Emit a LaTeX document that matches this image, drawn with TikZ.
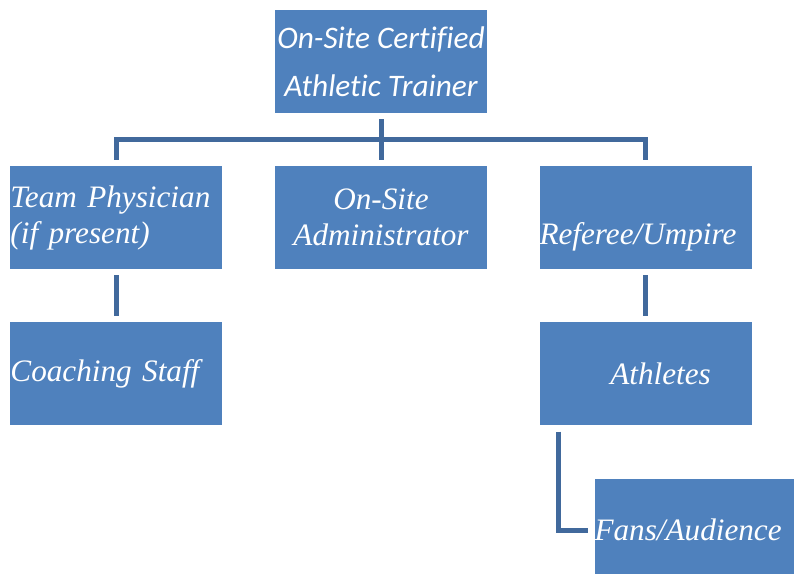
\documentclass[tikz,border=0pt]{standalone}
\usepackage{fontspec}
\setmainfont{Liberation Serif}
\newfontfamily\calibri[Ligatures={NoCommon,NoContextual}]{Carlito}
\usetikzlibrary{positioning}
\definecolor{boxblue}{HTML}{4F81BD}
\definecolor{lineblue}{HTML}{41699C}

\begin{document}
\begin{tikzpicture}[x=.75pt, y=-.75pt,
    node distance=39.5pt and 39pt,
    box/.style={rectangle, fill=boxblue, text=white, inner sep=0pt,
        minimum width=159pt, minimum height=77.25pt},
    serif/.style={font=\fontsize{23.4}{27}\selectfont\itshape},
    leftbox/.style={box, serif, text width=159pt, align=left},
    midbox/.style={box, serif, align=center},
    link/.style={draw=lineblue, line width=3.75pt}
    ]
    \clip (0,0) rectangle (794,574);

    \node[box, align=center, font=\calibri\fontsize{23.5}{36}\selectfont\itshape] (trainer) at (381,61.5) {On-Site Certified\\Athletic Trainer};

    \node[midbox, below=of trainer] (admin) {On-Site\\Administrator};
    \node[leftbox, left=of admin] (physician) {Team Physician\\(if present)};
    \node[leftbox, right=of admin] (referee) {\strut\\Referee/Umpire};

    \node[leftbox, below=of physician] (coach) {Coaching Staff};
    \node[midbox, below=of referee] (athletes) {\hspace*{22.5pt}Athletes};
    \node[leftbox, below=of athletes, xshift=41.25pt] (fans) {Fans/Audience};

    \draw[link] ([yshift=-4.5pt]trainer.south) -- ([yshift=4.5pt]admin.north);
    \draw[link] ([yshift=4.5pt]physician.north) |- ([yshift=19.5pt]admin.north) -| ([yshift=4.5pt]referee.north);
    \draw[link] ([yshift=-4.5pt]physician.south) -- ([yshift=4.5pt]coach.north);
    \draw[link] ([yshift=-4.5pt]referee.south) -- ([yshift=4.5pt]athletes.north);
    \draw[link] ([xshift=14.25pt, yshift=-4.5pt]athletes.south west) |- ([xshift=-4.5pt]fans.west);

\end{tikzpicture}
\end{document}
